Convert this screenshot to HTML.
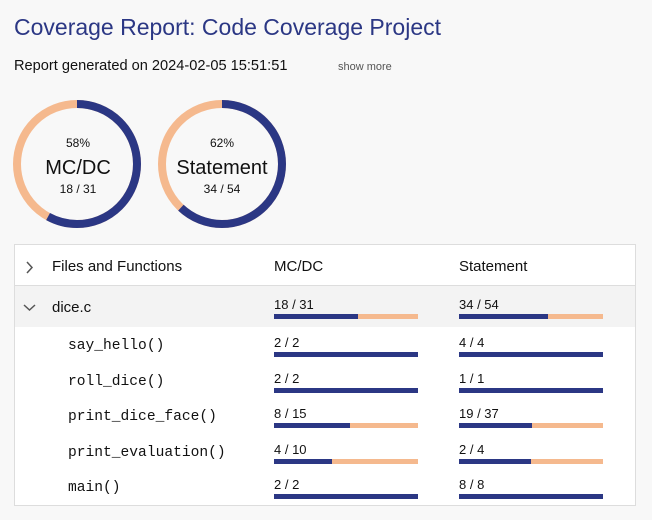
<!DOCTYPE html><html><head><style>
body{margin:0;width:652px;height:520px;background:#f8f8f8;font-family:"Liberation Sans",sans-serif;position:relative;overflow:hidden;color:#111}
.a{position:absolute;white-space:nowrap}
.bar{position:absolute;height:5px;width:144px;background:#f5b98e}
.bar i{display:block;height:5px;background:#2b3784}
.mono{font-family:"Liberation Mono",monospace;font-size:14.6px}
.n{font-size:13px}
</style></head><body>
<div class="a" style="left:14px;top:14px;font-size:23px;color:#2b3784">Coverage Report: Code Coverage Project</div>
<div class="a" style="left:14px;top:58px;font-size:14.6px">Report generated on 2024-02-05 15:51:51</div>
<div class="a" style="left:338px;top:61px;font-size:11px;color:#555">show more</div>
<svg class="a" style="left:0;top:90px" width="300" height="150">
<g fill="none" stroke-width="8">
<circle cx="77" cy="74" r="60" stroke="#f5b98e"/>
<circle cx="77" cy="74" r="60" stroke="#2b3784" stroke-dasharray="218.6 1000" transform="rotate(-90 77 74)"/>
<circle cx="222" cy="74" r="60" stroke="#f5b98e"/>
<circle cx="222" cy="74" r="60" stroke="#2b3784" stroke-dasharray="233.7 1000" transform="rotate(-90 222 74)"/>
</g>
<g text-anchor="middle" font-family="Liberation Sans" fill="#111">
<text x="78" y="57" font-size="12">58%</text><text x="78" y="84" font-size="20">MC/DC</text><text x="78" y="103" font-size="12">18 / 31</text>
<text x="222" y="57" font-size="12">62%</text><text x="222" y="84" font-size="20">Statement</text><text x="222" y="103" font-size="12">34 / 54</text>
</g></svg>
<div class="a" style="left:14px;top:244px;width:620px;height:260px;border:1px solid #ddd;background:#fff"></div>
<div class="a" style="left:15px;top:285px;width:620px;height:1px;background:#ddd"></div>
<div class="a" style="left:15px;top:286px;width:620px;height:41px;background:#f3f3f3"></div>
<svg class="a" style="left:20px;top:258px" width="20" height="20"><polyline points="7,4 12,9.5 7,15" fill="none" stroke="#555" stroke-width="1.5"/></svg>
<svg class="a" style="left:20px;top:298px" width="20" height="20"><polyline points="4,7 9.5,12 15,7" fill="none" stroke="#555" stroke-width="1.5"/></svg>
<div class="a" style="left:52px;top:258px;font-size:15px">Files and Functions</div>
<div class="a" style="left:274px;top:258px;font-size:15px">MC/DC</div>
<div class="a" style="left:459px;top:258px;font-size:15px">Statement</div>
<div class="a" style="left:52px;top:299px;font-size:15px">dice.c</div>
<div class="a n" style="left:274px;top:297px">18 / 31</div><div class="bar" style="left:274px;top:314px"><i style="width:58%"></i></div>
<div class="a n" style="left:459px;top:297px">34 / 54</div><div class="bar" style="left:459px;top:314px"><i style="width:62%"></i></div>

<div class="a mono" style="left:68px;top:338px">say_hello()</div>
<div class="a n" style="left:274px;top:335px">2 / 2</div><div class="bar" style="left:274px;top:352px"><i style="width:100%"></i></div>
<div class="a n" style="left:459px;top:335px">4 / 4</div><div class="bar" style="left:459px;top:352px"><i style="width:100%"></i></div>

<div class="a mono" style="left:68px;top:374px">roll_dice()</div>
<div class="a n" style="left:274px;top:371px">2 / 2</div><div class="bar" style="left:274px;top:388px"><i style="width:100%"></i></div>
<div class="a n" style="left:459px;top:371px">1 / 1</div><div class="bar" style="left:459px;top:388px"><i style="width:100%"></i></div>

<div class="a mono" style="left:68px;top:409px">print_dice_face()</div>
<div class="a n" style="left:274px;top:406px">8 / 15</div><div class="bar" style="left:274px;top:423px"><i style="width:53%"></i></div>
<div class="a n" style="left:459px;top:406px">19 / 37</div><div class="bar" style="left:459px;top:423px"><i style="width:51%"></i></div>

<div class="a mono" style="left:68px;top:445px">print_evaluation()</div>
<div class="a n" style="left:274px;top:442px">4 / 10</div><div class="bar" style="left:274px;top:459px"><i style="width:40%"></i></div>
<div class="a n" style="left:459px;top:442px">2 / 4</div><div class="bar" style="left:459px;top:459px"><i style="width:50%"></i></div>

<div class="a mono" style="left:68px;top:480px">main()</div>
<div class="a n" style="left:274px;top:477px">2 / 2</div><div class="bar" style="left:274px;top:494px"><i style="width:100%"></i></div>
<div class="a n" style="left:459px;top:477px">8 / 8</div><div class="bar" style="left:459px;top:494px"><i style="width:100%"></i></div>
</body></html>
